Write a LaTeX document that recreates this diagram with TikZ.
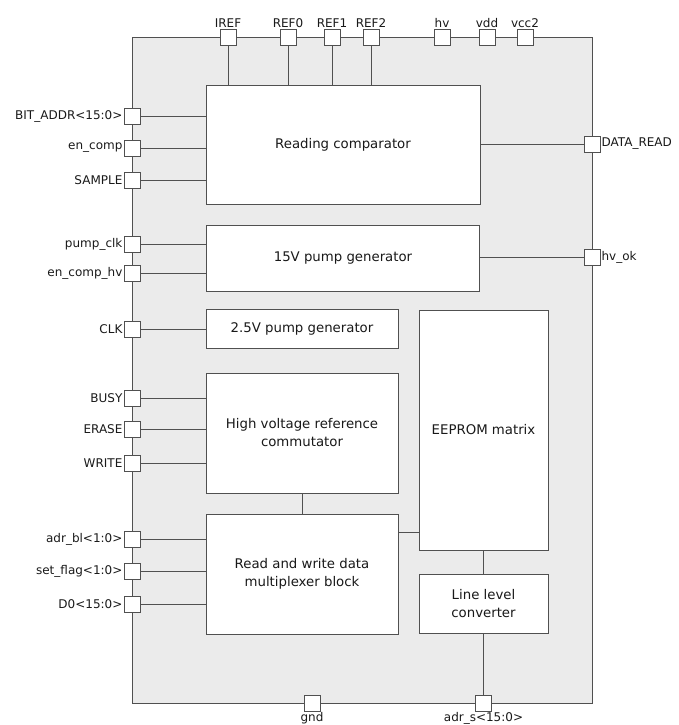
\documentclass[tikz,border=0pt]{standalone}
\usepackage{fontspec}
\setmainfont{DejaVu Sans}
\definecolor{ln}{RGB}{80,80,80}
\definecolor{bg}{RGB}{235,235,235}
\definecolor{tx}{RGB}{25,25,25}
\begin{document}
\begin{tikzpicture}[x=1pt,y=-1pt,
  pin/.style={draw=ln,fill=white,minimum size=16pt,inner sep=0pt,line width=0.8pt},
  blk/.style={draw=ln,fill=white,align=center,inner sep=0pt,line width=0.8pt,text=tx,font=\fontsize{13.3}{16}\selectfont},
  lab/.style={inner sep=1pt,text=tx,font=\fontsize{12}{14}\selectfont},
  wire/.style={draw=ln,line width=0.8pt}]
\useasboundingbox (0,0) rectangle (679,725);
\node[draw=ln,fill=bg,line width=0.8pt,minimum width=460pt,minimum height=666pt,inner sep=0pt] (outer) at (362,370) {};
% blocks
\node[blk,minimum width=274pt,minimum height=119pt] (RC) at (343,144.5) {Reading comparator};
\node[blk,minimum width=273pt,minimum height=66pt] (P15) at (343,258) {15V pump generator};
\node[blk,minimum width=192pt,minimum height=39pt] (P25) at (302,328.5) {2.5V pump generator};
\node[blk,minimum width=192pt,minimum height=120pt] (HV) at (302,433) {High voltage reference\\[2pt]commutator};
\node[blk,minimum width=192pt,minimum height=120pt] (RW) at (302,574) {Read and write data\\[2pt]multiplexer block};
\node[blk,minimum width=129pt,minimum height=240pt] (EE) at (483.5,430) {EEPROM matrix};
\node[blk,minimum width=129pt,minimum height=59pt] (LLC) at (483.5,603.5) {Line level\\[2pt]converter};
% top pins
\foreach \n/\x in {IREF/228,REF0/288,REF1/332,REF2/371,hv/442,vdd/487,vcc2/525}{
  \node[pin] (\n) at (\x,37) {};
  \node[lab,anchor=south] (\n-l) at (\n.north) {\n};
}
\foreach \n in {IREF,REF0,REF1,REF2}{
  \draw[wire] (\n.south) -- (\n.south |- RC.north);
}
% left pins
\foreach \n/\t/\y/\b in {bit/{BIT\_ADDR<15:0>}/116/RC, enc/{en\_comp}/148/RC, smp/SAMPLE/180/RC,
  pclk/{pump\_clk}/244/P15, ench/{en\_comp\_hv}/273/P15, clk/CLK/329/P25,
  busy/BUSY/398/HV, erase/ERASE/429/HV, write/WRITE/463/HV,
  adrbl/{adr\_bl<1:0>}/539/RW, setf/{set\_flag<1:0>}/571/RW, dz/{D0<15:0>}/604/RW}{
  \node[pin] (\n) at (132,\y) {};
  \node[lab,anchor=east] (\n-l) at (\n.west) {\t};
  \draw[wire] (\n.east) -- (\n.east -| \b.west);
}
% right pins
\node[pin] (dr) at (592,144) {};
\node[lab,anchor=west] (dr-l) at (dr.east) {DATA\_READ};
\draw[wire] (RC.east |- dr) -- (dr.west);
\node[pin] (hvok) at (592,257) {};
\node[lab,anchor=west] (hvok-l) at (hvok.east) {hv\_ok};
\draw[wire] (P15.east |- hvok) -- (hvok.west);
% bottom pins
\node[pin] (gnd) at (312,703) {};
\node[lab,anchor=north] (gnd-l) at (gnd.south) {gnd};
\node[pin] (adrs) at (483.5,703) {};
\node[lab,anchor=north] (adrs-l) at (adrs.south) {adr\_s<15:0>};
% internal connectors
\draw[wire] (HV.south) -- (RW.north);
\coordinate (rwc) at (RW.east |- 0,532);
\draw[wire] (rwc) -- (rwc -| EE.west);
\draw[wire] (EE.south) -- (LLC.north);
\draw[wire] (LLC.south) -- (adrs.north);
\end{tikzpicture}
\end{document}
